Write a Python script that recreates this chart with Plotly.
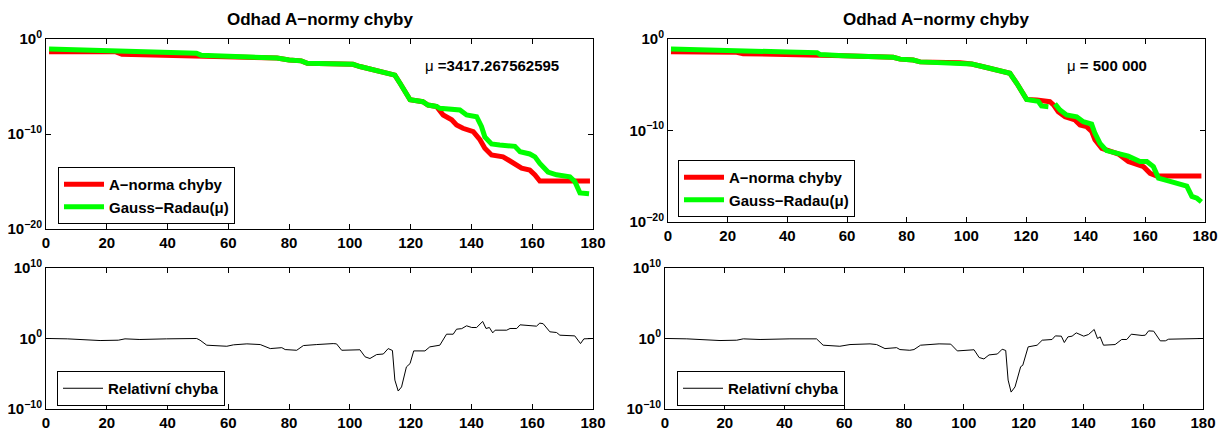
import numpy as np
import plotly.graph_objects as go

# ---------- data (log10 of values) ----------
# top-left panel: mu = 3417.267562595
tl_red = [(1, -1.33), (23, -1.35), (25, -1.6), (40, -1.72), (50, -1.7), (61, -1.86), (76, -2.0),
          (80, -2.2), (84, -2.3), (86, -2.55), (100, -2.6), (101, -2.67), (103.3, -2.9), (107.7, -3.26),
          (112, -3.5), (114.8, -3.8), (116.5, -4.66), (118, -5.5), (119.8, -6.4), (124, -6.6),
          (125.7, -6.95), (128.5, -7.1), (130.7, -8.0), (133.5, -8.5), (135.1, -9.05), (137.2, -9.4),
          (140.6, -9.75), (142.8, -10.6), (144.4, -11.5), (146.6, -12.2), (150.4, -12.4), (152.7, -12.84),
          (154.9, -13.26), (156.5, -13.6), (159.2, -13.8), (160.9, -14.3), (162.5, -14.95), (179, -14.95)]
tl_green = [(1, -1.05), (20, -1.2), (40, -1.44), (49.5, -1.5), (51, -1.7), (61, -1.86), (76, -2.0),
            (80, -2.2), (84, -2.3), (86, -2.55), (100, -2.6), (101, -2.67), (103.3, -2.9), (107.7, -3.26),
            (112, -3.5), (114.8, -3.8), (116.5, -4.66), (118, -5.5), (119.8, -6.4), (124, -6.6),
            (125.7, -6.95), (128.5, -7.1), (129.6, -7.3), (136.2, -7.47), (138.4, -8.0), (141.7, -8.18),
            (143.3, -9.2), (144.4, -10.3), (146.6, -11.05), (149.3, -11.16), (154.3, -11.3), (156, -11.86),
            (159.2, -12.1), (160.9, -12.4), (162.5, -13.1), (165.2, -14.0), (168, -14.3), (172.4, -14.5),
            (174, -15.0), (175.7, -16.2), (178.7, -16.3)]

# top-right panel: mu = 500 000
tr_red = [(1, -1.39), (23, -1.45), (25.2, -1.6), (40, -1.68), (50, -1.7), (58.8, -1.83), (75.5, -2.0),
          (77.8, -2.2), (82.2, -2.3), (84.5, -2.5), (97.9, -2.59), (101.8, -2.73), (105.7, -3.03),
          (108, -3.2), (111.3, -3.46), (114.6, -3.75), (116.9, -4.84), (119.1, -5.93), (120.2, -6.6),
          (123.6, -6.67), (128, -6.85), (129.2, -7.2), (130.8, -7.94), (133.1, -8.49), (136.4, -8.85),
          (138.1, -9.4), (140.3, -9.58), (142, -10.1), (143.1, -11.0), (145.4, -11.95), (148.2, -12.3),
          (151, -12.57), (154.3, -13.4), (157.1, -13.77), (159.4, -13.95), (161.6, -14.68), (163.8, -14.97),
          (178.8, -14.97)]
tr_green = [(1, -1.09), (23, -1.2), (40, -1.42), (50, -1.5), (51, -1.7), (58.8, -1.83), (75.5, -2.0),
            (77.8, -2.2), (82.2, -2.3), (84.5, -2.5), (97.9, -2.59), (101.8, -2.73), (105.7, -3.03),
            (108, -3.2), (111.3, -3.46), (114.6, -3.75), (116.9, -4.84), (119.1, -5.93), (120.2, -6.6),
            (124.1, -6.8), (125.2, -7.32), (127.5, -7.4), (128.5, None), (129.7, -7.1), (131.4, -7.76),
            (133.6, -8.3), (137, -8.5), (139.2, -9.04), (142, -9.3), (143.1, -10.3), (144.8, -11.4),
            (147, -12.2), (150.4, -12.5), (154.3, -12.8), (158.2, -13.4), (160.5, -13.4), (162.7, -13.95),
            (164.4, -15.2), (167.7, -15.5), (170.5, -15.7), (173.9, -16.07), (175.6, -17.2), (177.3, -17.4),
            (178.8, -17.8)]

# bottom panels: relative error
bl_rel = [(1, 0), (7, -0.05), (17.8, -0.29), (23.8, -0.24), (26, -0.05), (30.9, -0.14), (39.7, -0.05),
          (49.6, 0), (50.7, -0.24), (52.9, -0.95), (59.5, -1.1), (61.7, -0.9), (66.1, -0.76), (70.5, -0.86),
          (73.8, -1.43), (77.6, -1.3), (78.7, -1.57), (82.5, -1.67), (84.7, -1.0), (86.9, -0.9),
          (89.1, -0.86), (94.5, -0.72), (95.6, -0.76), (97.3, -1.67), (103.3, -1.6), (105, -2.6),
          (106.6, -2.84), (108.8, -2.28), (111, -2.2), (112.6, -1.43), (114, -1.7), (114.8, -5.9),
          (115.9, -7.45), (117, -6.87), (118.6, -4.03), (119.8, -3.56), (121, -1.76), (124.7, -1.76),
          (126.3, -1.19), (129.6, -0.95), (131.8, 0.61), (134, 0.61), (135.1, 1.32), (136.8, 1.4),
          (138.4, 1.8), (140.1, 1.56), (141.7, 1.56), (143.7, 2.42), (144.8, 1.42), (145.9, 1.56),
          (147, 0.8), (147.8, 1.18), (151.6, 1.18), (152.7, 1.42), (154.9, 1.42), (156, 1.94), (160.3, 1.75),
          (161.4, 1.75), (162.5, 2.18), (163.6, 2.1), (165.8, 0.95), (168, 0.85), (169.1, 0.47), (174, 0.37),
          (175.9, -0.72), (177, -0.05), (179.8, 0)]
br_rel = [(1, 0), (7.3, -0.05), (18.4, -0.29), (24, -0.24), (26.2, -0.05), (31.8, -0.14), (41.8, -0.05),
          (50.7, -0.05), (52.9, -0.95), (58.5, -1.1), (61.9, -0.86), (68.6, -0.76), (70.8, -0.86),
          (73.6, -1.43), (77.5, -1.3), (78.6, -1.57), (81.9, -1.67), (83.3, -1.57), (85.5, -0.95),
          (91.7, -0.76), (95.6, -0.8), (97.8, -1.76), (103.4, -1.6), (105.1, -2.7), (106.7, -2.9),
          (108.4, -2.33), (111.2, -2.2), (112.8, -1.52), (114, -1.7), (114.8, -5.9), (115.8, -7.6),
          (117.1, -6.87), (119, -4.0), (119.7, -3.8), (121.5, -1.19), (124.5, -0.95), (126.2, -0.24),
          (129.5, -0.14), (130.6, 0.37), (132.6, 0.33), (133.6, -0.57), (134.8, 0.23), (136.2, 0.33),
          (137.6, 0.8), (140.1, 0.33), (141.7, 0.57), (143.6, 1.28), (144.7, 0), (145.6, 0.23),
          (146.7, -0.95), (150.6, -0.86), (152.8, -0.14), (154.5, -0.14), (156, 0.61), (159.6, 0.43),
          (160.7, 0.47), (161.8, 1.08), (163.5, 1.04), (165.7, -0.33), (167.4, -0.33), (168.5, -0.1),
          (179.6, 0)]

x_ticks = [0, 20, 40, 60, 80, 100, 120, 140, 160, 180]
top_yticks = [0, -10, -20]
bot_yticks = [10, 0, -10]
title_text = "Odhad A\u2212normy chyby"
mu_left = "\u03bc <b>=3417.267562595</b>"
mu_right = "\u03bc <b>= 500 000</b>"
name_err = "A\u2212norma chyby"
name_gr = "Gauss\u2212Radau(\u03bc)"
name_rel = "Relativn\u00ed chyba"


def split(pairs):
    xs = [p[0] for p in pairs]
    ys = [None if p[1] is None else 10.0 ** p[1] for p in pairs]
    return xs, ys


def sup(e):
    s = str(e).replace("-", "\u2212")
    return f"10<sup>{s}</sup>"


FONT = "Liberation Sans, Arial, Helvetica, sans-serif"
W, H = 1225, 430

fig = go.Figure()

panels = [
    # (xaxis, yaxis, xpix, ypix, yticks, yrange)
    ("x", "y", (46, 593), (39, 229), top_yticks, [-20, 0]),
    ("x2", "y2", (668, 1205), (39, 222), top_yticks, [-20, 0]),
    ("x3", "y3", (46, 593), (268, 409), bot_yticks, [-10, 10]),
    ("x4", "y4", (665, 1203), (268, 409), bot_yticks, [-10, 10]),
]

red = "#ff0000"
green = "#00ff00"

for pairs, color, width, name, ax, lg in [
    (tl_red, red, 5, name_err, 0, "legend"),
    (tl_green, green, 5, name_gr, 0, "legend"),
    (tr_red, red, 5, name_err, 1, "legend2"),
    (tr_green, green, 5, name_gr, 1, "legend2"),
    (bl_rel, "#000000", 1, name_rel, 2, "legend3"),
    (br_rel, "#000000", 1, name_rel, 3, "legend4"),
]:
    xs, ys = split(pairs)
    xa, ya = panels[ax][0], panels[ax][1]
    fig.add_trace(go.Scatter(x=xs, y=ys, mode="lines", name=name,
                             line=dict(color=color, width=width),
                             xaxis=xa, yaxis=ya, legend=lg, showlegend=True,
                             connectgaps=False))

layout = dict(width=W, height=H, margin=dict(l=0, r=0, t=0, b=0, autoexpand=False),
              paper_bgcolor="white", plot_bgcolor="white",
              font=dict(family=FONT, size=15, color="black"),
              hovermode=False)

for i, (xa, ya, xp, yp, yt, yr) in enumerate(panels):
    kx = "xaxis" if i == 0 else f"xaxis{i+1}"
    ky = "yaxis" if i == 0 else f"yaxis{i+1}"
    layout[kx] = dict(domain=[xp[0] / W, xp[1] / W], range=[0, 180], tickvals=x_ticks,
                      ticktext=[str(v) for v in x_ticks], anchor=ya, automargin=False,
                      showline=True, linecolor="black", linewidth=1, mirror="ticks",
                      ticks="inside", ticklen=5, tickcolor="black", showgrid=False, zeroline=False,
                      tickfont=dict(family=FONT, size=15, weight="bold"))
    layout[ky] = dict(domain=[1 - yp[1] / H, 1 - yp[0] / H], type="log", range=yr,
                      tickvals=[10.0 ** v for v in yt], ticktext=[sup(v) for v in yt], anchor=xa,
                      automargin=False,
                      showline=True, linecolor="black", linewidth=1, mirror="ticks",
                      ticks="inside", ticklen=5, tickcolor="black", showgrid=False, zeroline=False,
                      tickfont=dict(family=FONT, size=15, weight="bold"))

leg_common = dict(bgcolor="white", bordercolor="black", borderwidth=1,
                  font=dict(family=FONT, size=15, weight="bold", color="black"),
                  xanchor="left", yanchor="bottom", tracegroupgap=0, itemwidth=40)
layout["legend"] = dict(leg_common, x=58 / W, y=1 - 224 / H)
layout["legend2"] = dict(leg_common, x=678 / W, y=1 - 217 / H)
layout["legend3"] = dict(leg_common, x=57 / W, y=1 - 406 / H)
layout["legend4"] = dict(leg_common, x=677 / W, y=1 - 406 / H)

annotations = [
    dict(text=f"<b>{title_text}</b>", x=(46 + 593) / 2 / W, y=1 - 20 / H, xref="paper", yref="paper",
         xanchor="center", yanchor="middle", showarrow=False, font=dict(size=17)),
    dict(text=f"<b>{title_text}</b>", x=(668 + 1205) / 2 / W, y=1 - 20 / H, xref="paper", yref="paper",
         xanchor="center", yanchor="middle", showarrow=False, font=dict(size=17)),
    dict(text=mu_left, x=492 / W, y=1 - 65 / H, xref="paper", yref="paper", showarrow=False,
         xanchor="center", yanchor="middle", font=dict(size=15)),
    dict(text=mu_right, x=1107 / W, y=1 - 65 / H, xref="paper", yref="paper", showarrow=False,
         xanchor="center", yanchor="middle", font=dict(size=15)),
]
layout["annotations"] = annotations

fig.update_layout(**layout)
fig.write_html("out.html", config={"displayModeBar": False},
               post_script="document.body.style.margin='0';document.body.style.overflow='hidden';")
